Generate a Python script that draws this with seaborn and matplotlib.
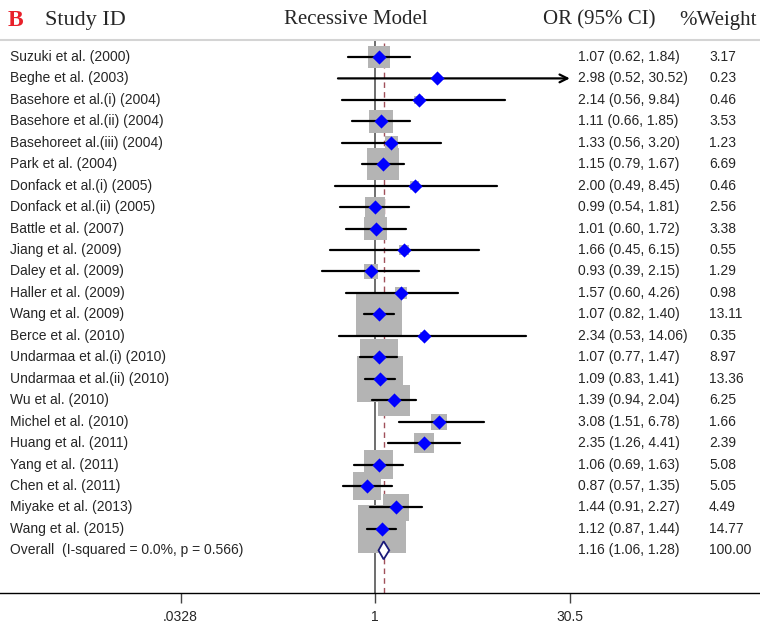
import numpy as np
import pandas as pd
import seaborn as sns
import matplotlib.pyplot as plt
from matplotlib import transforms

# study data
studies = ['Suzuki et al. (2000)', 'Beghe et al. (2003)', 'Basehore et al.(i) (2004)',
           'Basehore et al.(ii) (2004)', 'Basehoreet al.(iii) (2004)', 'Park et al. (2004)',
           'Donfack et al.(i) (2005)', 'Donfack et al.(ii) (2005)', 'Battle et al. (2007)',
           'Jiang et al. (2009)', 'Daley et al. (2009)', 'Haller et al. (2009)',
           'Wang et al. (2009)', 'Berce et al. (2010)', 'Undarmaa et al.(i) (2010)',
           'Undarmaa et al.(ii) (2010)', 'Wu et al. (2010)', 'Michel et al. (2010)',
           'Huang et al. (2011)', 'Yang et al. (2011)', 'Chen et al. (2011)',
           'Miyake et al. (2013)', 'Wang et al. (2015)']
odds = [1.07, 2.98, 2.14, 1.11, 1.33, 1.15, 2.00, 0.99, 1.01, 1.66, 0.93, 1.57,
        1.07, 2.34, 1.07, 1.09, 1.39, 3.08, 2.35, 1.06, 0.87, 1.44, 1.12]
ci_low = [0.62, 0.52, 0.56, 0.66, 0.56, 0.79, 0.49, 0.54, 0.60, 0.45, 0.39, 0.60,
          0.82, 0.53, 0.77, 0.83, 0.94, 1.51, 1.26, 0.69, 0.57, 0.91, 0.87]
ci_high = [1.84, 30.52, 9.84, 1.85, 3.20, 1.67, 8.45, 1.81, 1.72, 6.15, 2.15, 4.26,
           1.40, 14.06, 1.47, 1.41, 2.04, 6.78, 4.41, 1.63, 1.35, 2.27, 1.44]
weights = [3.17, 0.23, 0.46, 3.53, 1.23, 6.69, 0.46, 2.56, 3.38, 0.55, 1.29, 0.98,
           13.11, 0.35, 8.97, 13.36, 6.25, 1.66, 2.39, 5.08, 5.05, 4.49, 14.77]

overall_label = 'Overall  (I-squared = 0.0%, p = 0.566)'
overall = [1.16, 1.06, 1.28]
overall_weight = 100.00

tick_vals = [1 / 30.5, 1, 30.5]
tick_labels = ['.0328', '1', '30.5']

df = pd.DataFrame({'study': studies, 'or': odds, 'lo': ci_low, 'hi': ci_high, 'w': weights})
df['row'] = np.arange(len(df))
n = len(df)

sns.set_theme(style='white')
plt.rcParams['font.family'] = ['Liberation Sans', 'DejaVu Sans']

fig = plt.figure(figsize=(7.6, 6.27), dpi=100)
ax = fig.add_axes([0, 1 - 593 / 627, 1, (593 - 40) / 627])
ax.set_xscale('log')
px_dec, x_one = 131.1, 375.2
ax.set_xlim(10 ** (-x_one / px_dec), 10 ** ((760 - x_one) / px_dec))
ax.set_ylim(24.99, -0.79)

# reference lines
ax.axvline(1, color='#555555', lw=1.2, zorder=1)
ax.axvline(overall[0], color='#a0505a', lw=1, ls=(0, (4, 3)), zorder=1)

# weight boxes (area proportional to weight)
k = 80.9
wmin, wmax = df['w'].min(), df['w'].max()
sns.scatterplot(data=df, x='or', y='row', size='w', sizes=(k * wmin, k * wmax),
                size_norm=(wmin, wmax), marker='s', color='#b4b4b4', linewidth=0,
                legend=False, ax=ax, zorder=2)

# confidence intervals
xmax = tick_vals[-1]
for _, r in df.iterrows():
    if r['hi'] > xmax:
        ax.annotate('', xy=(xmax, r['row']), xytext=(r['lo'], r['row']),
                    arrowprops=dict(arrowstyle='->', lw=1.6, color='black',
                                    shrinkA=0, shrinkB=0, mutation_scale=14), zorder=3)
    else:
        ax.plot([r['lo'], r['hi']], [r['row'], r['row']], color='black', lw=1.6, zorder=3)

sns.scatterplot(data=df, x='or', y='row', marker='D', s=52, color='#0000ff',
                linewidth=0, legend=False, ax=ax, zorder=4)

# overall diamond
h = 0.42
ax.fill([overall[1], overall[0], overall[2], overall[0]], [n, n - h, n, n + h],
        facecolor='white', edgecolor='#1a1a7a', lw=1.3, zorder=5)

ax.set_xticks(tick_vals)
ax.set_xticklabels(tick_labels)
ax.xaxis.set_minor_locator(plt.NullLocator())
ax.set_yticks([])
ax.set_xlabel('')
ax.set_ylabel('')
ax.tick_params(axis='x', direction='out', length=7, width=1, color='#444444',
               labelsize=10, pad=5, bottom=True)
for s in ['left', 'right']:
    ax.spines[s].set_visible(False)
ax.spines['top'].set_color('#d4d4d4')
ax.spines['top'].set_linewidth(1.5)
ax.spines['bottom'].set_color('black')
ax.spines['bottom'].set_linewidth(1)

# text columns
tr = transforms.blended_transform_factory(ax.transAxes, ax.transData)
labels = studies + [overall_label]
or_txt = [f'{o:.2f} ({l:.2f}, {u:.2f})' for o, l, u in zip(odds, ci_low, ci_high)]
or_txt.append(f'{overall[0]:.2f} ({overall[1]:.2f}, {overall[2]:.2f})')
w_txt = [f'{w:.2f}' for w in weights] + [f'{overall_weight:.2f}']
for i in range(n + 1):
    ax.text(10 / 760, i, labels[i], transform=tr, va='center', fontsize=10)
    ax.text(578 / 760, i, or_txt[i], transform=tr, va='center', fontsize=10)
    ax.text(709 / 760, i, w_txt[i], transform=tr, va='center', fontsize=10)

# header
yh = 1 - 20 / 627
serif = ['Liberation Serif', 'DejaVu Serif']
fig.text(8 / 760, yh, 'B', color='#e8202a', fontsize=17, fontweight='bold', family=serif, va='center')
fig.text(45 / 760, yh, 'Study ID', fontsize=16, family=serif, va='center')
fig.text(356 / 760, yh, 'Recessive Model', fontsize=15, family=serif, va='center', ha='center')
fig.text(543 / 760, yh, 'OR (95% CI)', fontsize=15, family=serif, va='center')
fig.text(757 / 760, yh, '%Weight', fontsize=15, family=serif, va='center', ha='right')

fig.savefig('out.png', dpi=100)
